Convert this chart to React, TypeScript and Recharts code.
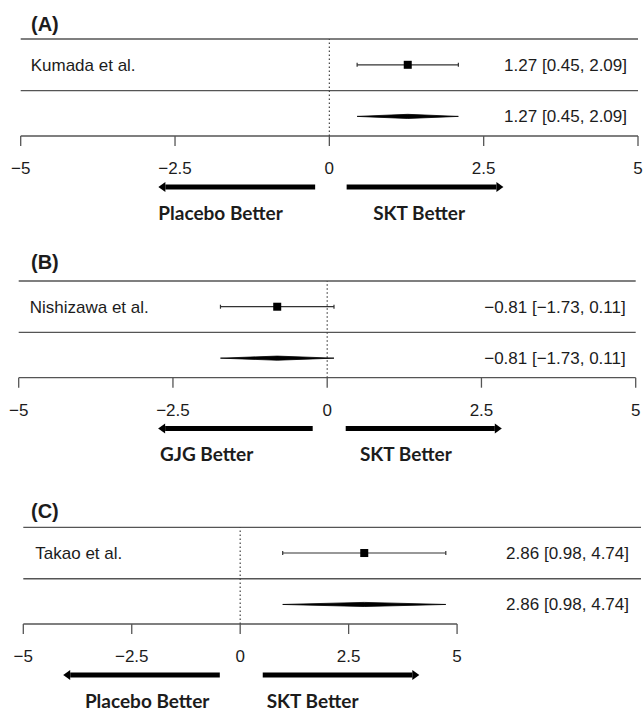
import React from "react";
import {
  ComposedChart,
  Scatter,
  ErrorBar,
  XAxis,
  YAxis,
  ReferenceLine,
  ReferenceDot,
} from "recharts";

// axis ticks shared by all three panels
const tickValues = [-5, -2.5, 0, 2.5, 5];
const tickLabels = ["\u22125", "\u22122.5", "0", "2.5", "5"];

// one entry per panel (A), (B), (C)
const panelTags = ["(A)", "(B)", "(C)"];
const studyNames = ["Kumada et al.", "Nishizawa et al.", "Takao et al."];
const estimates = [1.27, -0.81, 2.86];
const lowerCI = [0.45, -1.73, 0.98];
const upperCI = [2.09, 0.11, 4.74];
const leftLabels = ["Placebo Better", "GJG Better", "Placebo Better"];
const rightLabels = ["SKT Better", "SKT Better", "SKT Better"];
// arrows under the axis, [tail, tip] in effect units
const leftArrows = [
  [-0.23, -2.77],
  [-0.235, -2.74],
  [-0.47, -4.08],
];
const rightArrows = [
  [0.28, 2.82],
  [0.3, 2.83],
  [0.52, 4.13],
];
const leftLabelAt = [-2.77, -2.71, -3.58];
const rightLabelAt = [0.71, 0.53, 0.61];

const Y_TOP = 2.5;
const Y_MIN = 0.62;
const STUDY_ROW = 2;
const SUMMARY_ROW = 1;
const SEP_ROW = 1.5;
const ARROW_ROW = -0.37;
const ARROW_LABEL_ROW = -0.86;
const DIAMOND_HALF = 0.04;

const TEXT = "#1c1c1c";
const RULE = "#555";
const SANS = "'Liberation Sans', Arial, sans-serif";

const layouts = [
  { top: 0, height: 240, left: 20.7, right: 5, plotTop: 39, plotBottom: 136, xMax: 5, nameGap: 10, textGap: 11, tagTop: 14 },
  { top: 240, height: 245, left: 18.7, right: 7.3, plotTop: 41, plotBottom: 137.7, xMax: 5, nameGap: 11, textGap: 10, tagTop: 252 },
  { top: 485, height: 226, left: 23.3, right: 2, plotTop: 42.3, plotBottom: 139, xMax: 9.24, nameGap: 12, textGap: 12, tagTop: 501 },
];

const fmt = (v: number) => (v < 0 ? "\u2212" : "") + Math.abs(v).toFixed(2);
const ciText = (i: number) =>
  `${fmt(estimates[i])} [${fmt(lowerCI[i])}, ${fmt(upperCI[i])}]`;

const XAXIS_H = 40;

function Arrow(props: any) {
  const { x1, y1, x2, y2 } = props;
  const dir = x2 > x1 ? 1 : -1;
  const head = 7;
  return (
    <g>
      <line x1={x1} y1={y1} x2={x2 - dir * head} y2={y2} stroke="#000" strokeWidth={5} />
      <polygon
        points={`${x2},${y2} ${x2 - dir * head},${y2 - 5} ${x2 - dir * head},${y2 + 5}`}
        fill="#000"
      />
    </g>
  );
}

function ArrowLabel(text: string) {
  return (p: any) => (
    <text
      x={p.cx}
      y={p.cy}
      dominantBaseline="central"
      fontFamily="Lato, 'Open Sans', sans-serif"
      fontWeight={700}
      fontSize={19}
      fill={TEXT}
    >
      {text}
    </text>
  );
}

function Panel({ i }: { i: number }) {
  const L = layouts[i];
  const est = estimates[i];
  const lo = lowerCI[i];
  const hi = upperCI[i];
  const studyData = [{ x: est, y: STUDY_ROW, err: [est - lo, hi - est] }];
  const diamondData = [
    { x: lo, y: SUMMARY_ROW },
    { x: est, y: SUMMARY_ROW + DIAMOND_HALF },
    { x: hi, y: SUMMARY_ROW },
    { x: est, y: SUMMARY_ROW - DIAMOND_HALF },
    { x: lo, y: SUMMARY_ROW },
  ];
  const rowText: Record<number, string> = { [STUDY_ROW]: ciText(i), [SUMMARY_ROW]: ciText(i) };

  return (
    <div style={{ position: "absolute", left: 0, top: L.top }}>
      <ComposedChart
        width={643}
        height={L.height}
        margin={{
          top: L.plotTop,
          right: L.right,
          left: L.left,
          bottom: L.height - L.plotBottom - XAXIS_H,
        }}
      >
        <XAxis
          type="number"
          dataKey="x"
          domain={[-5, L.xMax]}
          allowDataOverflow
          ticks={tickValues}
          interval={0}
          tickFormatter={(v: number) => tickLabels[tickValues.indexOf(v)] ?? String(v)}
          axisLine={false}
          tickSize={10}
          tickMargin={16}
          height={XAXIS_H}
          tickLine={{ stroke: RULE, strokeWidth: 1.3 }}
          tick={{ fill: TEXT, fontSize: 17, fontFamily: SANS }}
        />
        <YAxis
          type="number"
          dataKey="y"
          domain={[Y_MIN, Y_TOP]}
          allowDataOverflow
          ticks={[STUDY_ROW]}
          tickFormatter={() => studyNames[i]}
          mirror
          width={300}
          axisLine={false}
          tickLine={false}
          tickSize={0}
          tickMargin={L.nameGap}
          tick={{ fill: TEXT, fontSize: 17, fontFamily: SANS }}
        />
        <YAxis
          yAxisId="r"
          orientation="right"
          type="number"
          domain={[Y_MIN, Y_TOP]}
          allowDataOverflow
          ticks={[SUMMARY_ROW, STUDY_ROW]}
          tickFormatter={(v: number) => rowText[v] ?? ""}
          mirror
          width={300}
          axisLine={false}
          tickLine={false}
          tickSize={0}
          tickMargin={L.textGap}
          tick={{ fill: TEXT, fontSize: 17, fontFamily: SANS }}
        />
        <ReferenceLine y={Y_TOP} stroke={RULE} strokeWidth={1.3} />
        <ReferenceLine y={SEP_ROW} stroke={RULE} strokeWidth={1.3} />
        <ReferenceLine
          segment={[
            { x: -5, y: Y_MIN },
            { x: 5, y: Y_MIN },
          ]}
          stroke={RULE}
          strokeWidth={1.3}
        />
        <ReferenceLine x={0} stroke="#444" strokeDasharray="1.5 2.5" strokeWidth={1.2} />

        <Scatter
          data={studyData}
          isAnimationActive={false}
          shape={(p: any) => (
            <rect x={p.cx - 4} y={p.cy - 4} width={8} height={8} fill="#000" />
          )}
        >
          <ErrorBar dataKey="err" direction="x" width={2} stroke="#333" strokeWidth={1.2} />
        </Scatter>
        <Scatter
          data={diamondData}
          isAnimationActive={false}
          line={{ stroke: "#000", strokeWidth: 0.8, fill: "#000" }}
          lineType="joint"
          shape={() => <g />}
        />

        <ReferenceLine
          segment={[
            { x: leftArrows[i][0], y: ARROW_ROW },
            { x: leftArrows[i][1], y: ARROW_ROW },
          ]}
          ifOverflow="visible"
          shape={Arrow}
        />
        <ReferenceLine
          segment={[
            { x: rightArrows[i][0], y: ARROW_ROW },
            { x: rightArrows[i][1], y: ARROW_ROW },
          ]}
          ifOverflow="visible"
          shape={Arrow}
        />
        <ReferenceDot
          x={leftLabelAt[i]}
          y={ARROW_LABEL_ROW}
          ifOverflow="visible"
          shape={ArrowLabel(leftLabels[i])}
        />
        <ReferenceDot
          x={rightLabelAt[i]}
          y={ARROW_LABEL_ROW}
          ifOverflow="visible"
          shape={ArrowLabel(rightLabels[i])}
        />
      </ComposedChart>
    </div>
  );
}

export default function App() {
  return (
    <div
      style={{
        position: "absolute",
        left: 0,
        top: 0,
        width: 643,
        height: 711,
        background: "#fff",
        overflow: "hidden",
      }}
    >
      {[0, 1, 2].map((i) => (
        <Panel key={i} i={i} />
      ))}
      {panelTags.map((tag, i) => (
        <div
          key={tag}
          style={{
            position: "absolute",
            left: 31,
            top: layouts[i].tagTop,
            fontFamily: SANS,
            fontWeight: 700,
            fontSize: 20,
            lineHeight: "20px",
            color: TEXT,
          }}
        >
          {tag}
        </div>
      ))}
    </div>
  );
}
